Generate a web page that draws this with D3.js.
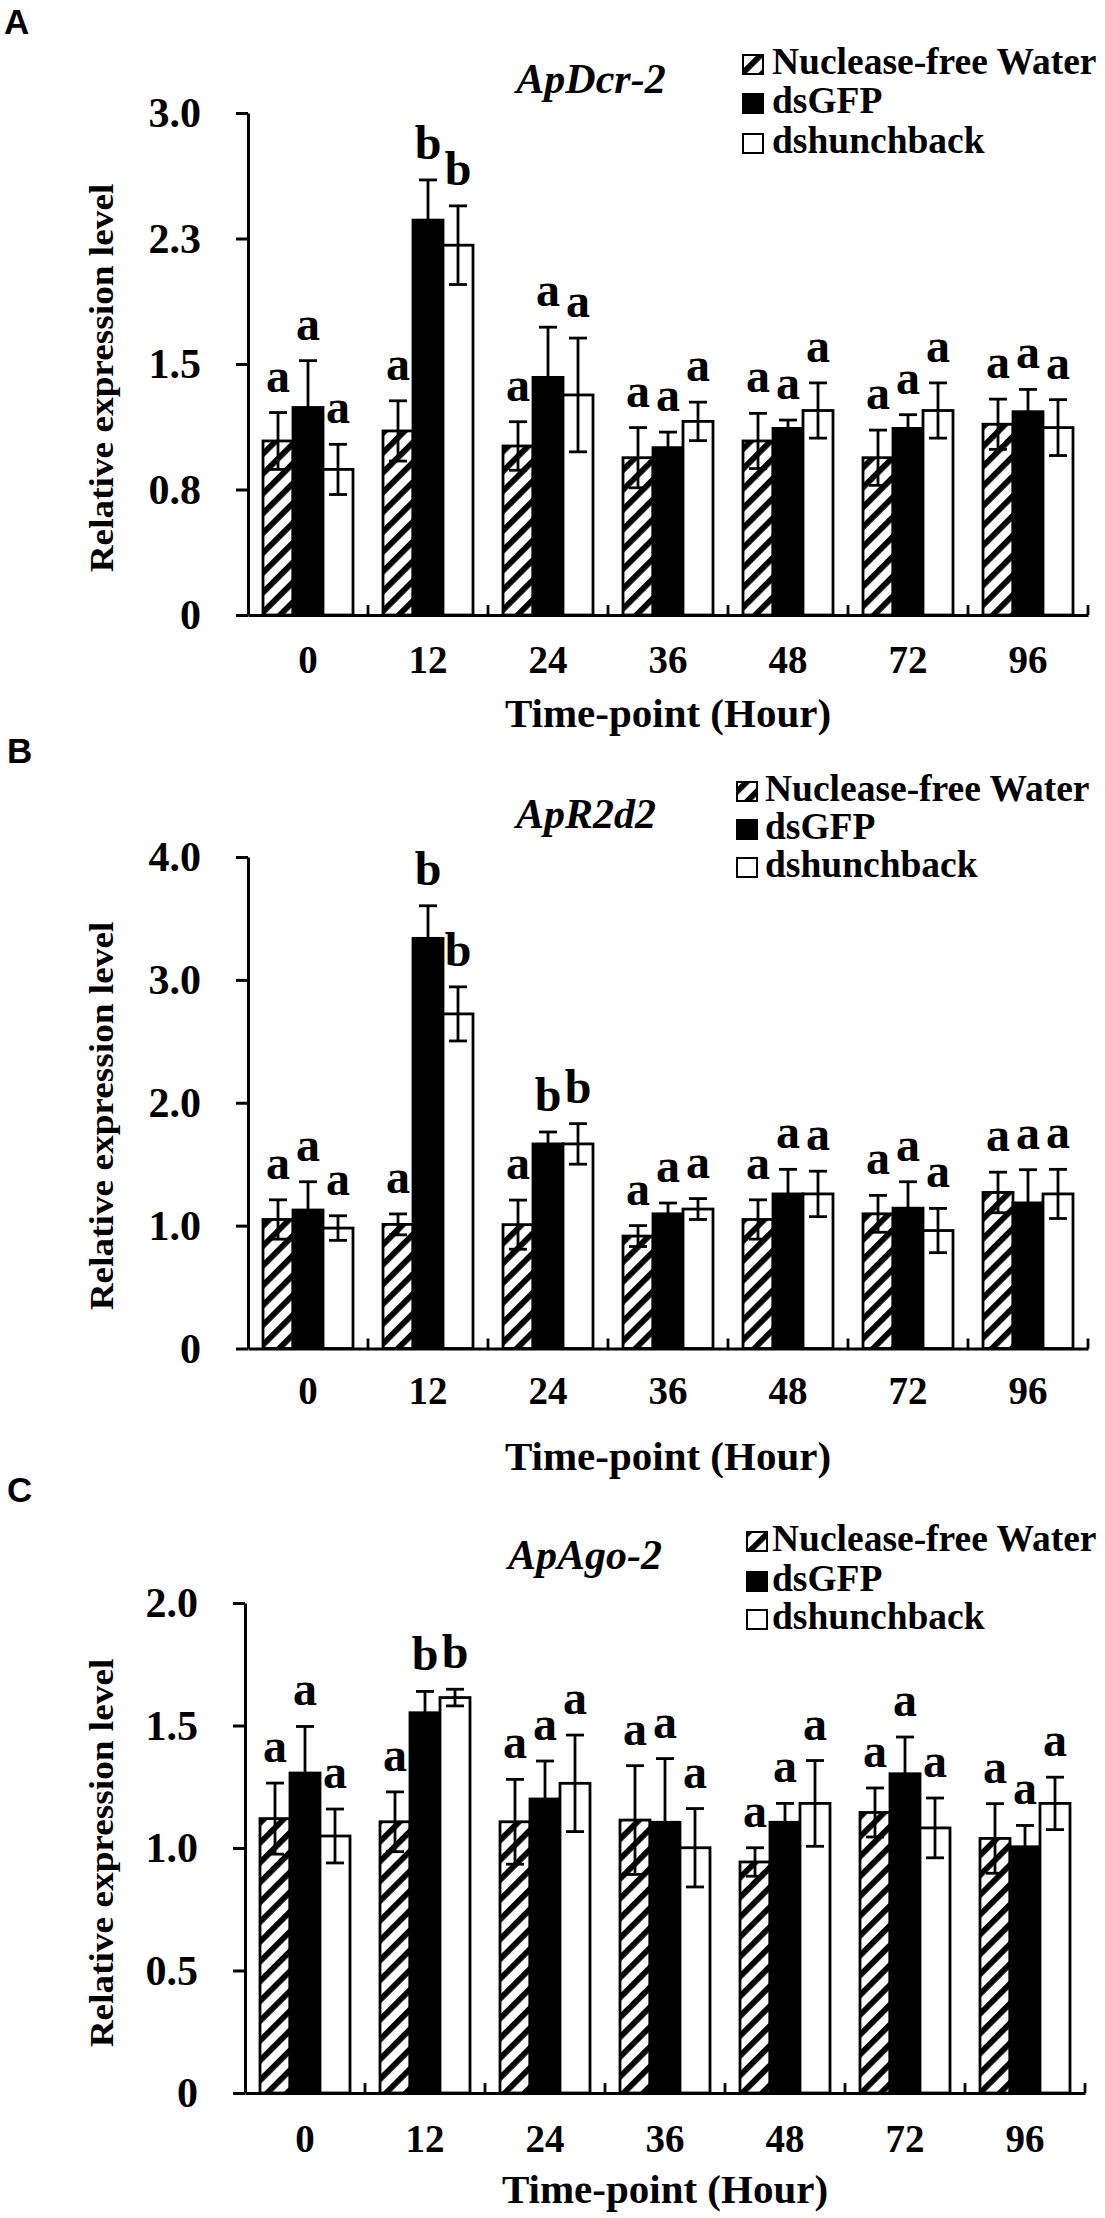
<!DOCTYPE html>
<html>
<head>
<meta charset="utf-8">
<script src="https://cdn.jsdelivr.net/npm/d3@7"></script>
<style>
  html, body { margin: 0; padding: 0; background: #fff; }
  svg { display: block; }
</style>
</head>
<body>
<script>
// ---------------- DATA ----------------
const categories = ["0", "12", "24", "36", "48", "72", "96"];
const seriesNames = ["Nuclease-free Water", "dsGFP", "dshunchback"];

// Panel A: ApDcr-2
const dcrWater    = [1.04, 1.10, 1.01, 0.94, 1.04, 0.94, 1.14];
const dcrWaterErr = [0.17, 0.18, 0.145, 0.18, 0.165, 0.165, 0.15];
const dcrGFP      = [1.24, 2.36, 1.42, 1.00, 1.115, 1.115, 1.215];
const dcrGFPErr   = [0.28, 0.24, 0.30, 0.093, 0.05, 0.082, 0.133];
const dcrHb       = [0.87, 2.21, 1.315, 1.157, 1.222, 1.222, 1.12];
const dcrHbErr    = [0.15, 0.235, 0.34, 0.115, 0.165, 0.165, 0.167];
const dcrLetters  = [["a","a","a"],["a","b","b"],["a","a","a"],["a","a","a"],["a","a","a"],["a","a","a"],["a","a","a"]];
const dcrTickValues = [0, 0.75, 1.5, 2.25, 3.0];
const dcrTickLabels = ["0", "0.8", "1.5", "2.3", "3.0"];

// Panel B: ApR2d2
const r2Water    = [1.05, 1.01, 1.008, 0.915, 1.05, 1.096, 1.27];
const r2WaterErr = [0.16, 0.085, 0.20, 0.085, 0.16, 0.15, 0.165];
const r2GFP      = [1.127, 3.338, 1.665, 1.096, 1.258, 1.142, 1.185];
const r2GFPErr   = [0.23, 0.265, 0.097, 0.088, 0.20, 0.215, 0.27];
const r2Hb       = [0.98, 2.723, 1.665, 1.135, 1.258, 0.96, 1.258];
const r2HbErr    = [0.10, 0.22, 0.165, 0.085, 0.185, 0.18, 0.20];
const r2Letters  = [["a","a","a"],["a","b","b"],["a","b","b"],["a","a","a"],["a","a","a"],["a","a","a"],["a","a","a"]];
const r2TickValues = [0, 1, 2, 3, 4];
const r2TickLabels = ["0", "1.0", "2.0", "3.0", "4.0"];

// Panel C: ApAgo-2
const agoWater    = [1.12, 1.107, 1.107, 1.114, 0.943, 1.145, 1.039];
const agoWaterErr = [0.145, 0.122, 0.173, 0.222, 0.058, 0.10, 0.142];
const agoGFP      = [1.306, 1.552, 1.20, 1.105, 1.105, 1.303, 1.005];
const agoGFPErr   = [0.19, 0.087, 0.155, 0.26, 0.077, 0.15, 0.087];
const agoHb       = [1.049, 1.614, 1.264, 1.001, 1.182, 1.082, 1.182];
const agoHbErr    = [0.11, 0.034, 0.197, 0.16, 0.175, 0.122, 0.107];
const agoLetters  = [["a","a","a"],["a","b","b"],["a","a","a"],["a","a","a"],["a","a","a"],["a","a","a"],["a","a","a"]];
const agoTickValues = [0, 0.5, 1.0, 1.5, 2.0];
const agoTickLabels = ["0", "0.5", "1.0", "1.5", "2.0"];

const panelLabels = ["A", "B", "C"];
const geneNames = ["ApDcr-2", "ApR2d2", "ApAgo-2"];
const xTitle = "Time-point (Hour)";
const yTitle = "Relative expression level";

// ---------------- LAYOUT ----------------
const W = 1105, H = 2218;
const SERIF = "'Liberation Serif', 'Times New Roman', serif";
const SANS = "'Liberation Sans', Arial, sans-serif";

const panels = [
  { label: panelLabels[0], gene: geneNames[0],
    series: [[dcrWater, dcrWaterErr], [dcrGFP, dcrGFPErr], [dcrHb, dcrHbErr]],
    letters: dcrLetters, tickValues: dcrTickValues, tickLabels: dcrTickLabels,
    axisX: 248, top: 113, bottom: 615, labelY: 34, labelX: 4,
    titleX: 591, titleY: 93, legX: 743, legTextX: 772, legY: [74, 113, 153],
    xLabY: 673, xTitleY: 727, yTitleY: 378 },
  { label: panelLabels[1], gene: geneNames[1],
    series: [[r2Water, r2WaterErr], [r2GFP, r2GFPErr], [r2Hb, r2HbErr]],
    letters: r2Letters, tickValues: r2TickValues, tickLabels: r2TickLabels,
    axisX: 248, top: 857, bottom: 1348.5, labelY: 763, labelX: 7,
    titleX: 586, titleY: 828, legX: 737, legTextX: 765, legY: [801, 839, 877],
    xLabY: 1404, xTitleY: 1470, yTitleY: 1116 },
  { label: panelLabels[2], gene: geneNames[2],
    series: [[agoWater, agoWaterErr], [agoGFP, agoGFPErr], [agoHb, agoHbErr]],
    letters: agoLetters, tickValues: agoTickValues, tickLabels: agoTickLabels,
    axisX: 245, top: 1603, bottom: 2093, labelY: 1502, labelX: 7,
    titleX: 585, titleY: 1569, legX: 747, legTextX: 772, legY: [1551, 1591, 1629],
    xLabY: 2152, xTitleY: 2203, yTitleY: 1853 }
];

const svg = d3.select("body").append("svg")
  .attr("width", W).attr("height", H)
  .attr("viewBox", `0 0 ${W} ${H}`);
svg.append("rect").attr("width", W).attr("height", H).attr("fill", "#fff");

const defs = svg.append("defs");
const pat = defs.append("pattern")
  .attr("id", "hatch").attr("patternUnits", "userSpaceOnUse")
  .attr("width", 14).attr("height", 14)
  .attr("patternTransform", "rotate(45)");
pat.append("rect").attr("width", 14).attr("height", 14).attr("fill", "#fff");
pat.append("rect").attr("x", 0).attr("y", 0).attr("width", 5.8).attr("height", 14).attr("fill", "#000");

const fills = ["url(#hatch)", "#000", "#fff"];
const plotW = 840;

panels.forEach(p => {
  const g = svg.append("g");
  const x = d3.scaleBand().domain(categories).range([p.axisX, p.axisX + plotW]).padding(0);
  const xs = d3.scaleBand().domain([0, 1, 2]).range([0, x.bandwidth()]).paddingInner(0).paddingOuter(0.5);
  const ymax = p.tickValues[p.tickValues.length - 1];
  const y = d3.scaleLinear().domain([0, ymax]).range([p.bottom, p.top]);

  // panel label
  svg.append("text").attr("x", p.labelX).attr("y", p.labelY)
    .attr("font-family", SANS).attr("font-weight", "bold").attr("font-size", 35)
    .text(p.label);

  // bars
  p.series.forEach((s, si) => {
    const vals = s[0];
    g.append("g").selectAll("rect").data(vals).join("rect")
      .attr("x", (d, i) => x(categories[i]) + xs(si))
      .attr("y", d => y(d))
      .attr("width", xs.bandwidth())
      .attr("height", d => y(0) - y(d))
      .attr("fill", fills[si])
      .attr("stroke", "#000").attr("stroke-width", 2.8);
  });

  // error bars + letters
  p.series.forEach((s, si) => {
    const vals = s[0], errs = s[1];
    const eg = g.append("g").attr("stroke", "#000").attr("stroke-width", 2.8).attr("fill", "none");
    vals.forEach((v, i) => {
      const cx = x(categories[i]) + xs(si) + xs.bandwidth() / 2;
      const y1 = y(v + errs[i]), y2 = y(v - errs[i]);
      eg.append("line").attr("x1", cx).attr("x2", cx).attr("y1", y1).attr("y2", y2);
      eg.append("line").attr("x1", cx - 9).attr("x2", cx + 9).attr("y1", y1).attr("y2", y1);
      eg.append("line").attr("x1", cx - 9).attr("x2", cx + 9).attr("y1", y2).attr("y2", y2);
    });
    g.append("g").selectAll("text").data(vals).join("text")
      .attr("x", (d, i) => x(categories[i]) + xs(si) + xs.bandwidth() / 2)
      .attr("y", (d, i) => y(d + errs[i]) - 21)
      .attr("text-anchor", "middle")
      .attr("font-family", SERIF).attr("font-weight", "bold").attr("font-size", 48)
      .text((d, i) => p.letters[i][si]);
  });

  // y axis
  const yAxis = d3.axisLeft(y).tickValues(p.tickValues)
    .tickFormat((d, i) => p.tickLabels[i]).tickSize(12).tickSizeOuter(0).tickPadding(35);
  const ya = g.append("g").attr("transform", `translate(${p.axisX},0)`).call(yAxis);
  ya.select(".domain").attr("stroke-width", 3);
  ya.selectAll(".tick line").attr("stroke-width", 3);
  ya.selectAll(".tick text")
    .attr("font-family", SERIF).attr("font-weight", "bold").attr("font-size", 42)
    .attr("dy", "0.33em").attr("fill", "#000");

  // x axis
  const xAxis = d3.axisBottom(x).tickSize(0).tickSizeOuter(0);
  const xa = g.append("g").attr("transform", `translate(0,${p.bottom})`).call(xAxis);
  xa.select(".domain").attr("stroke-width", 3);
  xa.selectAll(".tick text")
    .attr("y", p.xLabY - p.bottom).attr("dy", 0)
    .attr("font-family", SERIF).attr("font-weight", "bold").attr("font-size", 39)
    .attr("fill", "#000");
  // inner tick marks at category boundaries
  g.append("g").selectAll("line").data(categories).join("line")
    .attr("x1", d => x(d) + x.bandwidth()).attr("x2", d => x(d) + x.bandwidth())
    .attr("y1", p.bottom).attr("y2", p.bottom - 10)
    .attr("stroke", "#000").attr("stroke-width", 2.8);

  // x title
  svg.append("text").attr("x", p.axisX + plotW / 2).attr("y", p.xTitleY)
    .attr("text-anchor", "middle")
    .attr("font-family", SERIF).attr("font-weight", "bold").attr("font-size", 41)
    .text(xTitle);

  // y title
  svg.append("text")
    .attr("transform", `translate(113,${p.yTitleY}) rotate(-90) scale(1.13,1)`)
    .attr("text-anchor", "middle")
    .attr("font-family", SERIF).attr("font-weight", "bold").attr("font-size", 33)
    .text(yTitle);

  // gene title
  svg.append("text").attr("x", p.titleX).attr("y", p.titleY)
    .attr("text-anchor", "middle")
    .attr("font-family", SERIF).attr("font-weight", "bold").attr("font-style", "italic")
    .attr("font-size", 42)
    .text(p.gene);

  // legend
  seriesNames.forEach((name, si) => {
    svg.append("rect").attr("x", p.legX).attr("y", p.legY[si] - 19)
      .attr("width", 20).attr("height", 19)
      .attr("fill", fills[si]).attr("stroke", "#000").attr("stroke-width", 2);
    svg.append("text").attr("x", p.legTextX).attr("y", p.legY[si])
      .attr("font-family", SERIF).attr("font-weight", "bold").attr("font-size", 37.5)
      .text(name);
  });
});
</script>
</body>
</html>
